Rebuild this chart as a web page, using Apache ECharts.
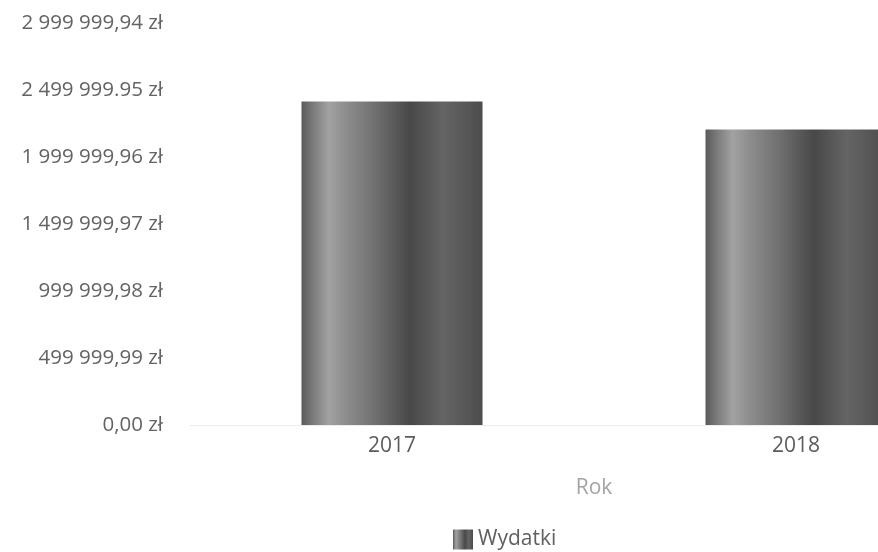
<!DOCTYPE html>
<html>
<head>
<meta charset="utf-8">
<script src="https://cdn.jsdelivr.net/npm/echarts@6/dist/echarts.min.js"></script>
<style>
html,body{margin:0;padding:0;background:#fff;}
#chart{width:878px;height:552px;}
</style>
</head>
<body>
<div id="chart"></div>
<script>
const years = ['2017', '2018'];
const wydatki = [2415000, 2205000];
const yTickLabels = ['0,00 zł', '499 999,99 zł', '999 999,98 zł', '1 499 999,97 zł', '1 999 999,96 zł', '2 499 999.95 zł', '2 999 999,94 zł'];
const yStep = 499999.99;
const yMax = 2999999.94;
const xAxisTitle = 'Rok';
const seriesName = 'Wydatki';

const barGradient = new echarts.graphic.LinearGradient(0, 0, 1, 0, [
  {offset: 0, color: '#5a5a5a'},
  {offset: 0.05, color: '#747474'},
  {offset: 0.15, color: '#a2a2a2'},
  {offset: 0.25, color: '#8c8c8c'},
  {offset: 0.4, color: '#717171'},
  {offset: 0.6, color: '#484848'},
  {offset: 0.78, color: '#646464'},
  {offset: 0.9, color: '#585858'},
  {offset: 1, color: '#4c4c4c'}
]);

const chart = echarts.init(document.getElementById('chart'));
chart.setOption({
  animation: false,
  textStyle: {fontFamily: 'Open Sans'},
  grid: {left: 190, right: -120, top: 23, bottom: 127, containLabel: false, outerBoundsMode: 'none'},
  legend: {
    data: [seriesName],
    left: 448,
    top: 524,
    icon: 'rect',
    itemWidth: 20,
    itemHeight: 20,
    itemGap: 8,
    textStyle: {fontFamily: 'Open Sans', fontSize: 21, color: '#606060'}
  },
  xAxis: {
    type: 'category',
    data: years,
    name: xAxisTitle,
    nameLocation: 'middle',
    nameGap: 53,
    nameTextStyle: {fontFamily: 'Open Sans', fontSize: 21, color: '#a4a4a4'},
    axisTick: {show: false},
    axisLine: {show: true, lineStyle: {color: '#ececec', width: 1}},
    axisLabel: {fontFamily: 'Open Sans', fontSize: 21, color: '#5c5c5c', margin: 11},
    splitLine: {show: false}
  },
  yAxis: {
    type: 'value',
    min: 0,
    max: yMax,
    interval: yStep,
    axisLine: {show: false},
    axisTick: {show: false},
    splitLine: {show: false},
    axisLabel: {
      fontFamily: 'Open Sans',
      fontSize: 20.5,
      color: '#636363',
      margin: 27,
      padding: [10, 0, 0, 0],
      formatter: function (v) {
        const i = Math.round(v / yStep);
        return yTickLabels[i] !== undefined ? yTickLabels[i] : '';
      }
    }
  },
  series: [{
    name: seriesName,
    type: 'bar',
    data: wydatki,
    barWidth: 181,
    itemStyle: {color: barGradient}
  }]
});
</script>
</body>
</html>
